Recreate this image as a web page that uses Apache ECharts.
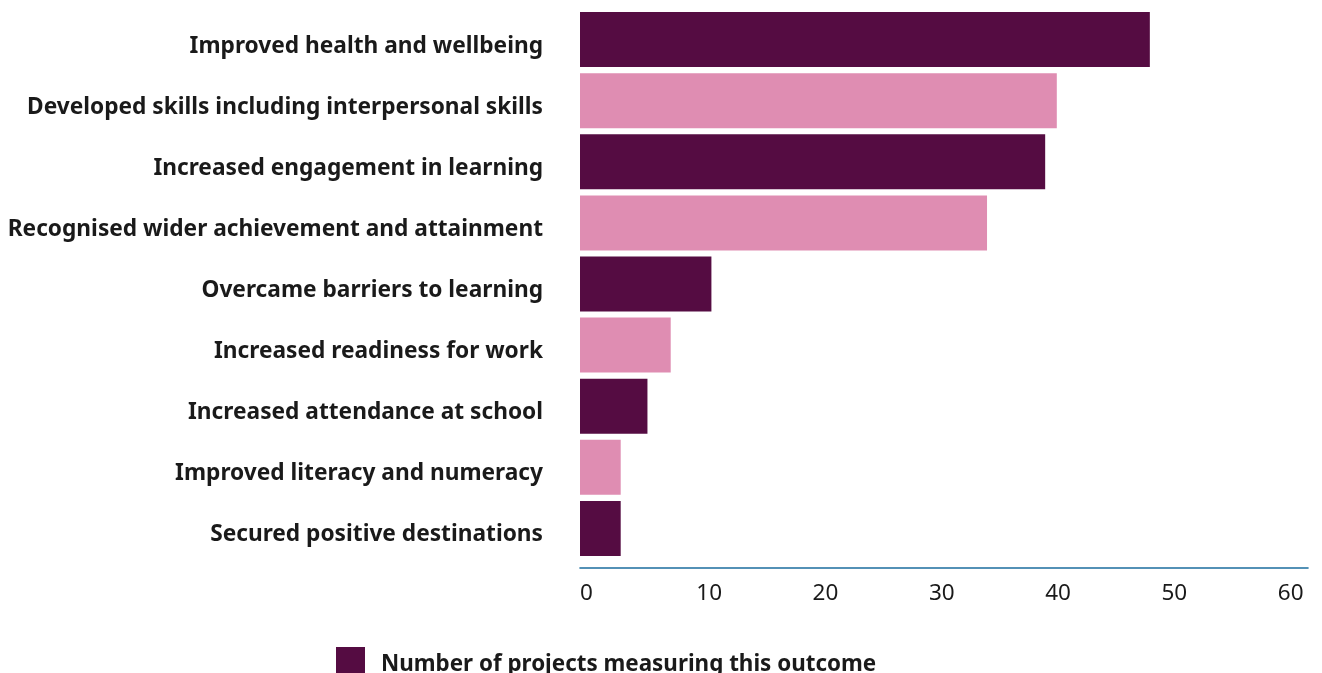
<!DOCTYPE html>
<html>
<head>
<meta charset="utf-8">
<script src="https://cdn.jsdelivr.net/npm/echarts@6/dist/echarts.min.js"></script>
<style>
html,body{margin:0;padding:0;background:#fff;}
#chart{width:1322px;height:673px;}
</style>
</head>
<body>
<div id="chart"></div>
<script>
const categories = [
  "Improved health and wellbeing",
  "Developed skills including interpersonal skills",
  "Increased engagement in learning",
  "Recognised wider achievement and attainment",
  "Overcame barriers to learning",
  "Increased readiness for work",
  "Increased attendance at school",
  "Improved literacy and numeracy",
  "Secured positive destinations"
];
const values = [49, 41, 40, 35, 11.3, 7.8, 5.8, 3.5, 3.5];
const seriesName = "Number of projects measuring this outcome";
const tickValues = [0, 10, 20, 30, 40, 50, 60];

const DARK = "#550c42";
const PINK = "#df8db2";
const FONT = "'Noto Sans', sans-serif";

const chart = echarts.init(document.getElementById('chart'), null, {renderer: 'canvas'});
chart.setOption({
  backgroundColor: '#ffffff',
  animation: false,
  grid: {left: 580, right: 14, top: 9, height: 550, containLabel: false},
  legend: {
    left: 336, top: 647, padding: 0,
    itemWidth: 29, itemHeight: 28,
    icon: 'rect',
    data: [seriesName],
    formatter: n => '{a|' + n + '}',
    textStyle: {
      fontFamily: FONT, fontWeight: 'bold', fontSize: 22.4, color: '#1a1a1a',
      rich: {a: {padding: [8, 0, 0, 11], fontFamily: FONT, fontWeight: 'bold', fontSize: 22.4, color: '#1a1a1a'}}
    }
  },
  xAxis: {
    type: 'value', min: 0, max: 62.6, interval: 10,
    offset: 9,
    splitLine: {show: false},
    axisTick: {show: false},
    axisLine: {show: true, lineStyle: {color: '#1b6d9e', width: 1.6}},
    axisLabel: {
      align: 'left', margin: 14,
      fontFamily: FONT, fontSize: 22.5, color: '#1a1a1a',
      formatter: v => tickValues.includes(v) ? String(v) : ''
    }
  },
  yAxis: {
    type: 'category', inverse: true, data: categories,
    axisLine: {show: false}, axisTick: {show: false},
    axisLabel: {
      margin: 37,
      formatter: v => '{a|' + v + '}',
      rich: {a: {padding: [13, 0, 0, 0], fontFamily: FONT, fontWeight: 'bold', fontSize: 22.7, color: '#1a1a1a'}}
    }
  },
  series: [{
    name: seriesName, type: 'bar',
    barCategoryGap: '10%',
    itemStyle: {color: DARK},
    data: values.map((v, i) => ({value: v, itemStyle: {color: i % 2 === 0 ? DARK : PINK}}))
  }]
});
</script>
</body>
</html>
